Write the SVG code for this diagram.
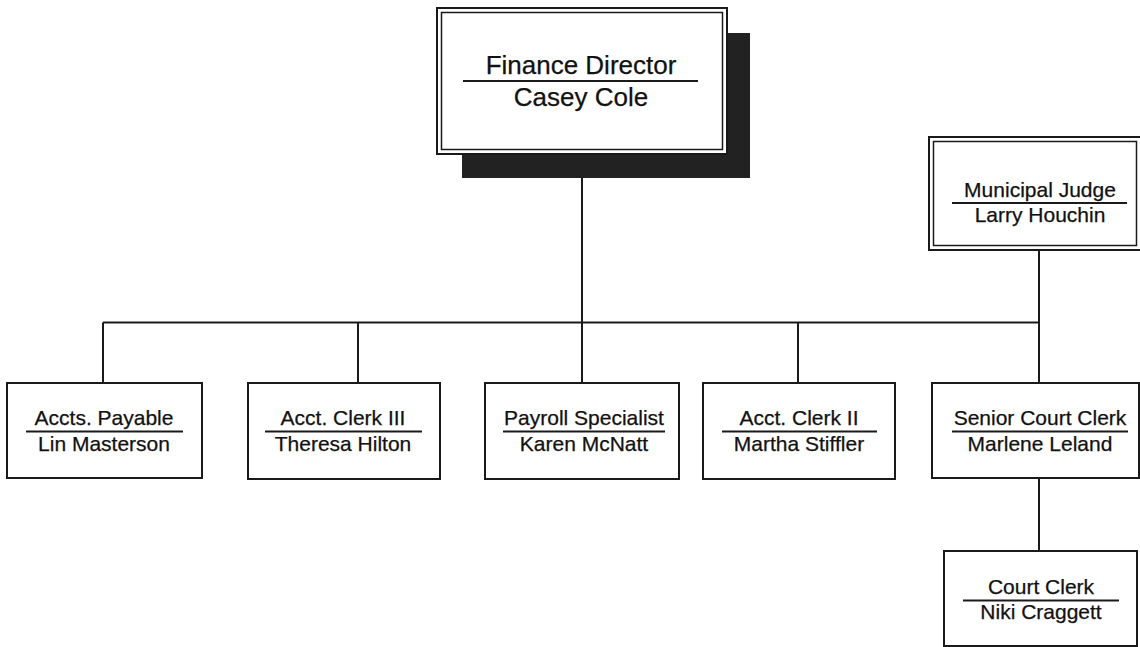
<svg xmlns="http://www.w3.org/2000/svg" width="1140" height="647" viewBox="0 0 1140 647">
  <style>
    .box { fill: #fff; stroke: #1a1a1a; stroke-width: 2; }
    .dbl { fill: none; stroke: #1a1a1a; stroke-width: 1.5; }
    .rule { stroke: #1a1a1a; stroke-width: 2; }
    .wire { stroke: #1a1a1a; stroke-width: 2; fill: none; }
    text { font-family: "Liberation Sans", Arial, sans-serif; fill: #111; text-anchor: middle; stroke: #111; stroke-width: 0.25; }
    .t { font-size: 21px; }
    .big { font-size: 26px; }
  </style>

  <!-- reporting lines -->
  <g id="connectors">
    <line class="wire" x1="582" y1="178" x2="582" y2="383"/>
    <line class="wire" x1="103" y1="322.5" x2="1039" y2="322.5"/>
    <line class="wire" x1="103" y1="322.5" x2="103" y2="383"/>
    <line class="wire" x1="358" y1="322.5" x2="358" y2="383"/>
    <line class="wire" x1="798" y1="322.5" x2="798" y2="383"/>
    <line class="wire" x1="1039" y1="250" x2="1039" y2="383"/>
    <line class="wire" x1="1039" y1="478" x2="1039" y2="551"/>
  </g>

  <g id="finance-director">
    <rect x="462" y="33" width="288" height="145" fill="#222"/>
    <rect class="box" x="437" y="8" width="290" height="146"/>
    <rect class="dbl" x="441.5" y="12.5" width="281" height="137"/>
    <text class="big" x="581" y="74">Finance Director</text>
    <line class="rule" x1="463" y1="81" x2="698" y2="81"/>
    <text class="big" x="581" y="106">Casey Cole</text>
  </g>

  <g id="municipal-judge">
    <rect class="box" x="929" y="137" width="212" height="113"/>
    <rect class="dbl" x="933.5" y="141.5" width="203" height="104"/>
    <text class="t" x="1040" y="197">Municipal Judge</text>
    <line class="rule" x1="952" y1="203" x2="1127" y2="203"/>
    <text class="t" x="1040" y="222">Larry Houchin</text>
  </g>

  <g id="accts-payable">
    <rect class="box" x="7" y="383" width="195" height="95"/>
    <text class="t" x="104" y="425">Accts. Payable</text>
    <line class="rule" x1="26" y1="431.5" x2="183" y2="431.5"/>
    <text class="t" x="104" y="451">Lin Masterson</text>
  </g>

  <g id="acct-clerk-3">
    <rect class="box" x="248" y="383" width="192" height="96"/>
    <text class="t" x="343" y="425">Acct. Clerk III</text>
    <line class="rule" x1="265" y1="431.5" x2="422" y2="431.5"/>
    <text class="t" x="343" y="451">Theresa Hilton</text>
  </g>

  <g id="payroll-specialist">
    <rect class="box" x="485" y="383" width="194" height="96"/>
    <text class="t" x="584" y="425">Payroll Specialist</text>
    <line class="rule" x1="503" y1="431.5" x2="665" y2="431.5"/>
    <text class="t" x="584" y="451">Karen McNatt</text>
  </g>

  <g id="acct-clerk-2">
    <rect class="box" x="703" y="383" width="192" height="96"/>
    <text class="t" x="799" y="425">Acct. Clerk II</text>
    <line class="rule" x1="722" y1="431.5" x2="877" y2="431.5"/>
    <text class="t" x="799" y="451">Martha Stiffler</text>
  </g>

  <g id="senior-court-clerk">
    <rect class="box" x="932" y="383" width="207" height="95"/>
    <text class="t" x="1040" y="425">Senior Court Clerk</text>
    <line class="rule" x1="952" y1="431.5" x2="1128" y2="431.5"/>
    <text class="t" x="1040" y="451">Marlene Leland</text>
  </g>

  <g id="court-clerk">
    <rect class="box" x="944" y="551" width="193" height="95"/>
    <text class="t" x="1041" y="594">Court Clerk</text>
    <line class="rule" x1="963" y1="600.5" x2="1119" y2="600.5"/>
    <text class="t" x="1041" y="619">Niki Craggett</text>
  </g>
</svg>
